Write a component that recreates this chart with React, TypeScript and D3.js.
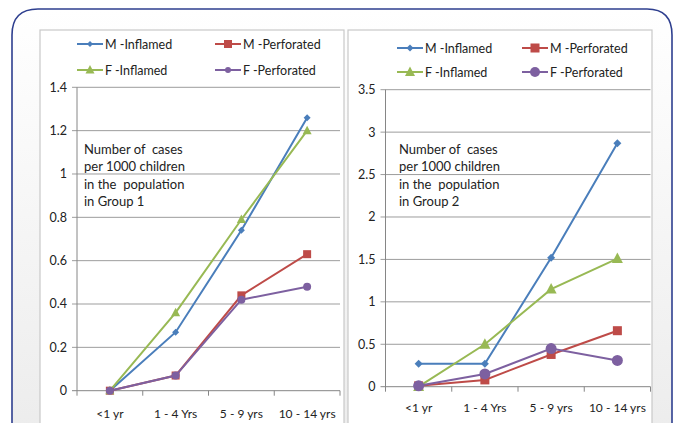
import React from 'react';
import * as d3 from 'd3';

const categories = ['<1 yr', '1 - 4 Yrs', '5 - 9 yrs', '10 - 14 yrs'];
const seriesNames = ['M -Inflamed', 'M -Perforated', 'F -Inflamed', 'F -Perforated'];
const seriesColors = ['#4a7ebb', '#be4b48', '#98b954', '#7d60a0'];
const seriesShapes = ['diamond', 'square', 'triangle', 'circle'];

const group1 = [
  [0, 0.27, 0.74, 1.26],
  [0, 0.07, 0.44, 0.63],
  [0, 0.36, 0.79, 1.2],
  [0, 0.07, 0.42, 0.48],
];
const group2 = [
  [0.27, 0.27, 1.52, 2.87],
  [0.01, 0.08, 0.38, 0.66],
  [0, 0.5, 1.15, 1.51],
  [0.01, 0.15, 0.45, 0.31],
];
const ticks1 = [0, 0.2, 0.4, 0.6, 0.8, 1, 1.2, 1.4];
const ticks2 = [0, 0.5, 1, 1.5, 2, 2.5, 3, 3.5];
const note1 = ['Number of  cases', 'per 1000 children', 'in the  population', 'in Group 1'];
const note2 = ['Number of  cases', 'per 1000 children', 'in the  population', 'in Group 2'];

const FONT = 'Lato, "Open Sans", sans-serif';

function Marker({ shape, x, y, s, color }: { shape: string; x: number; y: number; s: number; color: string }) {
  if (shape === 'diamond') {
    return <polygon points={`${x},${y - s} ${x + s},${y} ${x},${y + s} ${x - s},${y}`} fill={color} />;
  }
  if (shape === 'square') {
    return <rect x={x - s} y={y - s} width={2 * s} height={2 * s} fill={color} />;
  }
  if (shape === 'triangle') {
    return <polygon points={`${x},${y - s * 1.1} ${x + s},${y + s * 0.8} ${x - s},${y + s * 0.8}`} fill={color} />;
  }
  return <circle cx={x} cy={y} r={s} fill={color} />;
}

interface PanelProps {
  box: [number, number, number];
  plot: { x0: number; x1: number; y0: number; y1: number };
  max: number;
  ticks: number[];
  data: number[][];
  note: string[];
  noteX: number;
  noteY: number;
  legend: { x1: number; x2: number; y1: number; y2: number };
  sizes: number[];
  legendSizes: number[];
  xLabelY: number;
}

function Panel(p: PanelProps) {
  const x = d3.scaleBand<string>().domain(categories).range([p.plot.x0, p.plot.x1]);
  const y = d3.scaleLinear().domain([0, p.max]).range([p.plot.y0, p.plot.y1]);
  const cx = (i: number) => (x(categories[i]) as number) + x.bandwidth() / 2;
  const line = d3.line<number>()
    .x((_, i) => cx(i))
    .y(d => y(d));
  const legendPos = [
    [p.legend.x1, p.legend.y1],
    [p.legend.x2, p.legend.y1],
    [p.legend.x1, p.legend.y2],
    [p.legend.x2, p.legend.y2],
  ];
  return (
    <g>
      <rect x={p.box[0]} y={30} width={p.box[1] - p.box[0]} height={p.box[2]} fill="#fff" stroke="#c9c9c9" strokeWidth={1.2} />
      {p.ticks.map(t => (
        <g key={t}>
          <line x1={p.plot.x0 - 5} x2={p.plot.x1} y1={y(t)} y2={y(t)} stroke={t === 0 ? '#868686' : '#9d9d9d'} strokeWidth={1} />
          <text x={p.plot.x0 - 10} y={y(t)} dy="0.35em" textAnchor="end" fontSize={12.5} fill="#222" fontFamily={FONT}>{t}</text>
        </g>
      ))}
      <line x1={p.plot.x0} x2={p.plot.x0} y1={p.plot.y1} y2={p.plot.y0 + 5} stroke="#868686" />
      {categories.map((c, i) => (
        <g key={c}>
          <line x1={(x(c) as number) + x.bandwidth()} x2={(x(c) as number) + x.bandwidth()} y1={p.plot.y0} y2={p.plot.y0 + 5} stroke="#868686" />
          <text x={cx(i)} y={p.xLabelY} textAnchor="middle" fontSize={12} fill="#222" fontFamily={FONT}>{c}</text>
        </g>
      ))}
      {p.data.map((s, si) => (
        <g key={si}>
          <path d={line(s) || ''} fill="none" stroke={seriesColors[si]} strokeWidth={2} />
          {s.map((v, i) => (
            <Marker key={i} shape={seriesShapes[si]} x={cx(i)} y={y(v)} s={p.sizes[si]} color={seriesColors[si]} />
          ))}
        </g>
      ))}
      {seriesNames.map((n, si) => {
        const [lx, ly] = legendPos[si];
        return (
          <g key={n}>
            <line x1={lx} x2={lx + 26} y1={ly} y2={ly} stroke={seriesColors[si]} strokeWidth={2} />
            <Marker shape={seriesShapes[si]} x={lx + 13} y={ly} s={p.legendSizes[si]} color={seriesColors[si]} />
            <text x={lx + 28} y={ly} dy="0.36em" fontSize={12.5} fill="#222" fontFamily={FONT}>{n}</text>
          </g>
        );
      })}
      {p.note.map((t, i) => (
        <text key={i} x={p.noteX} y={p.noteY + i * 17.5} dy="0.36em" fontSize={13} fill="#222" fontFamily={FONT} style={{ whiteSpace: 'pre' }}>{t}</text>
      ))}
    </g>
  );
}

export default function App() {
  return (
    <svg width={673} height={423} style={{ position: 'absolute', left: 0, top: 0, background: '#fff' }}>
      <defs>
        <linearGradient id="bg" x1="0" y1="0" x2="0" y2="1">
          <stop offset="0%" stopColor="#ffffff" />
          <stop offset="100%" stopColor="#ececec" />
        </linearGradient>
      </defs>
      <path d="M12,440 L12,35 Q12,9 38,9 L647,9 Q672,9 672,35 L672,440 Z" fill="url(#bg)" stroke="#2e3f8f" strokeWidth={1.6} />
      <Panel
        box={[40, 344, 420]}
        plot={{ x0: 77, x1: 340, y0: 390.7, y1: 87.3 }}
        max={1.4}
        ticks={ticks1}
        data={group1}
        note={note1}
        noteX={84}
        noteY={149}
        legend={{ x1: 77, x2: 215, y1: 44, y2: 70 }}
        sizes={[3.5, 4, 4.5, 4]}
        legendSizes={[3, 4, 4.5, 3]}
        xLabelY={418}
      />
      <Panel
        box={[348, 652, 420]}
        plot={{ x0: 385.5, x1: 650.5, y0: 386.7, y1: 89.7 }}
        max={3.5}
        ticks={ticks2}
        data={group2}
        note={note2}
        noteX={399}
        noteY={149}
        legend={{ x1: 397, x2: 522, y1: 48, y2: 72 }}
        sizes={[4, 4.5, 5.5, 5.5]}
        legendSizes={[3.5, 4.5, 5, 5]}
        xLabelY={412}
      />
    </svg>
  );
}
